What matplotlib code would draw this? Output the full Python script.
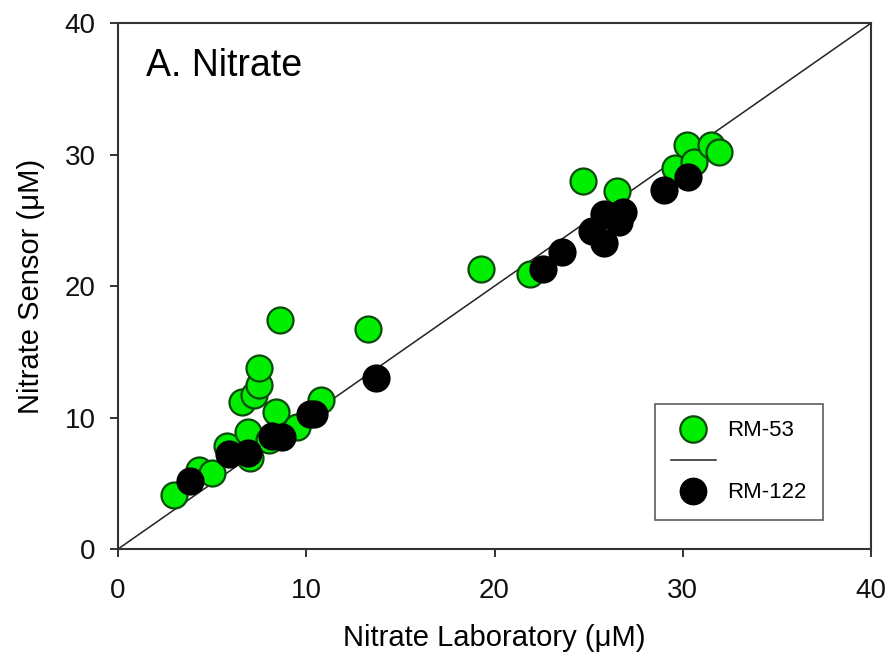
import matplotlib
matplotlib.use("Agg")
import matplotlib.pyplot as plt
from matplotlib.lines import Line2D

plt.rcParams['font.family'] = ['Liberation Sans', 'DejaVu Sans']

# RM-53 (green)
rm53_x = [3.0, 4.3, 5.0, 5.8, 6.6, 7.2, 7.5, 7.5, 8.6, 6.9, 6.9, 7.0, 8.0, 8.4, 9.5, 10.8,
          13.3, 19.3, 21.9, 24.7, 26.5, 29.6, 30.2, 30.6, 31.5, 31.9]
rm53_y = [4.1, 6.0, 5.8, 7.8, 11.2, 11.7, 12.5, 13.8, 17.4, 8.9, 7.2, 6.9, 8.3, 10.4, 9.3, 11.3,
          16.7, 21.3, 20.9, 28.0, 27.2, 29.0, 30.7, 29.4, 30.7, 30.2]
# RM-122 (black)
rm122_x = [3.8, 5.9, 6.9, 8.2, 8.7, 10.2, 10.4, 13.7, 22.6, 23.6, 25.2, 25.8, 25.8, 26.6,
           26.8, 26.3, 29.0, 30.3]
rm122_y = [5.2, 7.2, 7.3, 8.6, 8.5, 10.3, 10.3, 13.0, 21.3, 22.6, 24.2, 23.3, 25.5, 24.9,
           25.6, 25.3, 27.3, 28.3]
line_x = [0, 40]
line_y = [0, 40]

fig = plt.figure(figsize=(8.9, 6.61), dpi=100)
ax = fig.add_axes([0.1326, 0.1694, 0.8461, 0.7956])

ax.plot(line_x, line_y, color='#222222', lw=1.1, zorder=1)
ax.scatter(rm53_x, rm53_y, s=350, c='#00ee00', edgecolors='#0a4a0a', linewidths=1.6, zorder=2)
ax.scatter(rm122_x, rm122_y, s=350, c='black', edgecolors='black', linewidths=1.6, zorder=3)

ax.set_xlim(0, 40)
ax.set_ylim(0, 40)
ax.set_xticks([0, 10, 20, 30, 40])
ax.set_yticks([0, 10, 20, 30, 40])
ax.tick_params(direction='out', length=6, width=1.2, labelsize=20, colors='#111111')
ax.tick_params(axis='x', pad=15)
ax.tick_params(axis='y', pad=10)
for sp in ax.spines.values():
    sp.set_linewidth(1.5)
    sp.set_color('#333333')

ax.set_xlabel('Nitrate Laboratory (\u03bcM)', fontsize=21, labelpad=14)
ax.set_ylabel('Nitrate Sensor (\u03bcM)', fontsize=21, labelpad=14)
ax.text(1.5, 36.0, 'A. Nitrate', fontsize=27)

h1 = Line2D([], [], marker='o', ls='none', markersize=19, markerfacecolor='#00ee00',
            markeredgecolor='#0a4a0a', markeredgewidth=1.6)
h2 = Line2D([], [], color='#222222', lw=1.1)
h3 = Line2D([], [], marker='o', ls='none', markersize=19, markerfacecolor='black',
            markeredgecolor='black')
leg = ax.legend([h1, h2, h3], ['RM-53', '', 'RM-122'], loc='lower right',
                bbox_to_anchor=(0.936, 0.055), fontsize=16, frameon=True, fancybox=False,
                edgecolor='#333333', handlelength=2.0, labelspacing=0.45, borderpad=0.75,
                handletextpad=0.5, borderaxespad=0)
leg.get_frame().set_linewidth(1.2)

fig.savefig('out.png', dpi=100)
